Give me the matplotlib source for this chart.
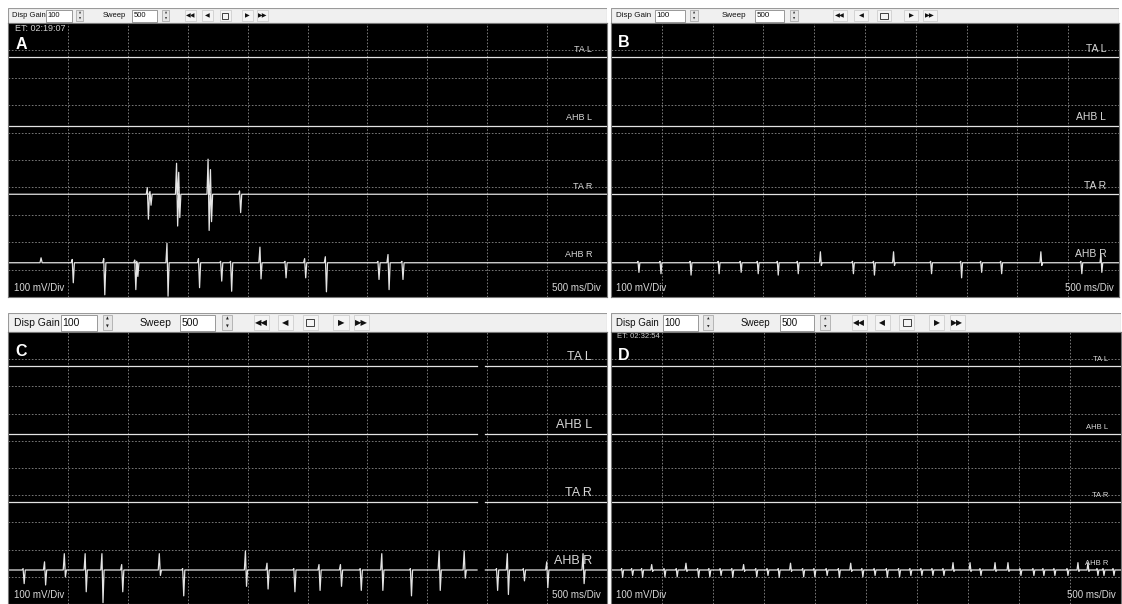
import matplotlib
matplotlib.use("Agg")
import matplotlib.pyplot as plt
from matplotlib.patches import Rectangle

### Data (times in ms over a 5000 ms sweep, amplitudes in divisions)
channels = ["TA L", "AHB L", "TA R", "AHB R"]
sweep_ms = 5000
baselines = [1.25, 3.75, 6.25, 8.75]

# Panel A
a_tar_t = [1163, 1185, 1407, 1425, 1670, 1690, 1933]
a_tar_up = [0.24, 0.10, 1.13, 0.80, 1.28, 0.90, 0.12]
a_tar_dn = [0.91, 0.40, 1.16, 0.85, 1.32, 1.00, 0.67]
a_ahbr_t = [276, 536, 799, 1058, 1075, 1327, 1590, 1775, 1858, 2103, 2312, 2476, 2649, 3088, 3172, 3288]
a_ahbr_up = [0.18, 0.12, 0.15, 0.10, 0.05, 0.71, 0.15, 0.05, 0.05, 0.57, 0.05, 0.15, 0.22, 0.05, 0.30, 0.05]
a_ahbr_dn = [0.00, 0.73, 1.17, 0.98, 0.50, 1.22, 0.91, 0.67, 1.04, 0.59, 0.55, 0.55, 1.06, 0.61, 0.98, 0.61]

# Panel B
b_ahbr_t = [266, 483, 779, 1055, 1272, 1440, 1637, 1834, 2061, 2377, 2584, 2781, 3146, 3442, 3639, 3836, 4231, 4625, 4822]
b_ahbr_up = [0.05, 0.05, 0.05, 0.05, 0.05, 0.05, 0.05, 0.05, 0.40, 0.05, 0.05, 0.40, 0.05, 0.05, 0.05, 0.05, 0.40, 0.05, 0.30]
b_ahbr_dn = [0.35, 0.40, 0.45, 0.40, 0.35, 0.40, 0.45, 0.40, 0.10, 0.40, 0.45, 0.10, 0.40, 0.55, 0.35, 0.40, 0.10, 0.40, 0.35]

# Panel C
c_ahbr_t = [126, 305, 470, 644, 784, 949, 1263, 1458, 1982, 2162, 2386, 2596, 2775, 2940, 3120, 3359, 3599, 3808, 4078, 4168, 4302, 4497, 4800]
c_ahbr_up = [0.05, 0.30, 0.60, 0.60, 0.60, 0.20, 0.60, 0.05, 0.70, 0.25, 0.05, 0.20, 0.20, 0.05, 0.60, 0.05, 0.70, 0.70, 0.05, 0.60, 0.05, 0.30, 0.60]
c_ahbr_dn = [0.50, 0.55, 0.25, 0.80, 1.20, 0.80, 0.20, 0.95, 0.60, 0.70, 0.80, 0.75, 0.60, 0.75, 0.75, 0.95, 0.75, 0.30, 0.75, 0.90, 0.40, 0.65, 0.50]
c_gap = (3915, 3985)

# Panel D
d_ahbr_t = [105, 203, 301, 399, 520, 640, 735, 850, 960, 1070, 1185, 1300, 1420, 1530, 1640, 1760, 1880, 1990,
            2110, 2230, 2350, 2460, 2580, 2700, 2820, 2931, 3039, 3147, 3255, 3353, 3520, 3618, 3765, 3892,
            4010, 4137, 4235, 4343, 4471, 4578, 4676, 4765, 4824, 4922]
d_ahbr_up = [0.05, 0.05, 0.05, 0.20, 0.05, 0.05, 0.25, 0.05, 0.05, 0.05, 0.05, 0.20, 0.05, 0.05, 0.05, 0.25, 0.05, 0.05,
             0.05, 0.05, 0.25, 0.05, 0.05, 0.05, 0.05, 0.05, 0.05, 0.05, 0.05, 0.27, 0.27, 0.05, 0.27, 0.27,
             0.05, 0.05, 0.05, 0.05, 0.05, 0.27, 0.27, 0.05, 0.05, 0.05]
d_ahbr_dn = [0.27, 0.20, 0.27, 0.05, 0.25, 0.25, 0.05, 0.27, 0.25, 0.20, 0.27, 0.05, 0.25, 0.20, 0.27, 0.05, 0.25, 0.25,
             0.20, 0.27, 0.05, 0.25, 0.20, 0.27, 0.25, 0.20, 0.20, 0.20, 0.20, 0.05, 0.05, 0.20, 0.05, 0.05,
             0.20, 0.20, 0.20, 0.20, 0.20, 0.05, 0.05, 0.20, 0.20, 0.20]

W, H = 1122, 604
bg = "#000000"
trace_c = "#e4e4e4"
grid_c = "#8a8a8a"
font = ["Liberation Sans", "DejaVu Sans"]


def px_axes(fig, x0, y0, x1, y1):
	ax = fig.add_axes([x0 / W, 1 - y1 / H, (x1 - x0) / W, (y1 - y0) / H])
	ax.set_xlim(0, x1 - x0)
	ax.set_ylim(y1 - y0, 0)
	ax.axis("off")
	return ax


def toolbar(fig, x0, y0, x1, y1, s, sb, fs):
	ax = px_axes(fig, x0, y0, x1, y1)
	h = y1 - y0
	ax.add_patch(Rectangle((0, 0), x1 - x0, h, facecolor="#f0f0f0", edgecolor="#9a9a9a", lw=0.8))
	ym = h / 2
	ax.text(4 * s, ym, "Disp Gain", fontsize=fs, family=font, va="center", ha="left", color="#111111")
	ax.text(95 * s, ym, "Sweep", fontsize=fs, family=font, va="center", ha="left", color="#111111")
	for bx0, bx1, txt in [(38, 64, "100"), (124, 149, "500")]:
		ax.add_patch(Rectangle((bx0 * s, 1.5), (bx1 - bx0) * s, h - 3, facecolor="white", edgecolor="#8a8a8a", lw=0.6))
		ax.text(bx0 * s + 1.5, ym, txt, fontsize=fs, family=font, va="center", ha="left", color="#111111")
	for sx in [68, 154]:
		ax.add_patch(Rectangle((sx * s, 2), 7 * s, h - 4, facecolor="#e6e6e6", edgecolor="#a0a0a0", lw=0.5))
		ax.text(sx * s + 3.5 * s, ym - h * 0.2, "\u25b2", fontsize=fs * 0.35, ha="center", va="center", color="#222222")
		ax.text(sx * s + 3.5 * s, ym + h * 0.2, "\u25bc", fontsize=fs * 0.35, ha="center", va="center", color="#222222")
	for bx, sym in [(177, "\u25c0\u25c0"), (194, "\u25c0"), (212, ""), (234, "\u25b6"), (249, "\u25b6\u25b6")]:
		ax.add_patch(Rectangle((bx * sb, 2), 11 * sb, h - 4, facecolor="#f4f4f4", edgecolor="#c8c8c8", lw=0.5))
		if sym:
			ax.text(bx * sb + 5.5 * sb, ym, sym, fontsize=fs * 0.8, ha="center", va="center", color="#111111", family="DejaVu Sans")
		else:
			ax.add_patch(Rectangle((bx * sb + 2.5 * sb, ym - h * 0.2), 6 * sb, h * 0.4, facecolor="none", edgecolor="#222222", lw=0.6))
	return ax


def trace(ax, base, t_list, up_list, dn_list, gap=None, dt=9):
	xs = [0]
	ys = [base]
	for t, up, dn in zip(t_list, up_list, dn_list):
		xs += [t - dt, t, t + dt, t + 2 * dt]
		ys += [base, base - up, base + dn, base]
	xs.append(sweep_ms)
	ys.append(base)
	if gap is not None:
		xa = [x for x in xs if x < gap[0]] + [gap[0]]
		ya = [y for x, y in zip(xs, ys) if x < gap[0]] + [base]
		xb = [gap[1]] + [x for x in xs if x > gap[1]]
		yb = [base] + [y for x, y in zip(xs, ys) if x > gap[1]]
		ax.plot(xa, ya, color=trace_c, lw=0.9)
		ax.plot(xb, yb, color=trace_c, lw=0.9)
	else:
		ax.plot(xs, ys, color=trace_c, lw=0.9)


def screen(fig, box, tb_h, s, sb, tb_fs, letter, et, lab_fs, spikes, gap=None, et_fs=6.5, letter_top=0.96):
	x0, y0, x1, y1 = box
	toolbar(fig, x0, y0, x1, y0 + tb_h, s, sb, tb_fs)
	ax = fig.add_axes([x0 / W, 1 - y1 / H, (x1 - x0) / W, (y1 - y0 - tb_h) / H])
	ax.set_facecolor(bg)
	ax.set_xlim(0, sweep_ms)
	ax.set_ylim(10, 0)
	for k in range(1, 10):
		ax.axvline(k * sweep_ms / 10, color=grid_c, lw=0.6, ls=(0, (2, 2)))
		ax.axhline(k, color=grid_c, lw=0.6, ls=(0, (2, 2)))
	ax.set_xticks([])
	ax.set_yticks([])
	for sp in ax.spines.values():
		sp.set_color("#777777")
		sp.set_linewidth(0.8)
	for i, name in enumerate(channels):
		if name in spikes:
			t_list, up_list, dn_list = spikes[name]
		else:
			t_list, up_list, dn_list = [], [], []
		trace(ax, baselines[i], t_list, up_list, dn_list, gap)
		ax.text(0.975, 1 - (baselines[i] - 0.12) / 10, name, transform=ax.transAxes, ha="right", va="bottom",
			fontsize=lab_fs, family=font, color="#d8d8d8")
	if et:
		ax.text(0.012, 0.997, et, transform=ax.transAxes, ha="left", va="top", fontsize=et_fs, family=font, color="#cfcfcf")
	ax.text(0.013, letter_top, letter, transform=ax.transAxes, ha="left", va="top",
		fontsize=11.5, fontweight="bold", family=font, color="white")
	ax.text(0.01, 0.015, "100 mV/Div", transform=ax.transAxes, ha="left", va="bottom", fontsize=7, family=font, color="#d8d8d8")
	ax.text(0.99, 0.015, "500 ms/Div", transform=ax.transAxes, ha="right", va="bottom", fontsize=7, family=font, color="#d8d8d8")
	return ax


fig = plt.figure(figsize=(W / 100, H / 100), dpi=100)
fig.patch.set_facecolor("white")

screen(fig, (8, 8, 607, 297), 15, 1.0, 1.0, 5.5, "A", "ET: 02:19:07", 6.5,
	{"TA R": (a_tar_t, a_tar_up, a_tar_dn), "AHB R": (a_ahbr_t, a_ahbr_up, a_ahbr_dn)}, letter_top=0.95)
screen(fig, (611, 8, 1119, 297), 15, 1.16, 1.254, 5.8, "B", None, 7.5,
	{"AHB R": (b_ahbr_t, b_ahbr_up, b_ahbr_dn)}, letter_top=0.955)
screen(fig, (8, 313, 607, 604), 19, 1.39, 1.39, 7.5, "C", None, 9,
	{"AHB R": (c_ahbr_t, c_ahbr_up, c_ahbr_dn)}, gap=c_gap, letter_top=0.955)
screen(fig, (611, 313, 1121, 604), 19, 1.36, 1.36, 7.0, "D", "ET: 02:32:54", 5.5,
	{"AHB R": (d_ahbr_t, d_ahbr_up, d_ahbr_dn)}, et_fs=5.5, letter_top=0.94)

fig.savefig("out.png", dpi=100, facecolor=fig.get_facecolor())
